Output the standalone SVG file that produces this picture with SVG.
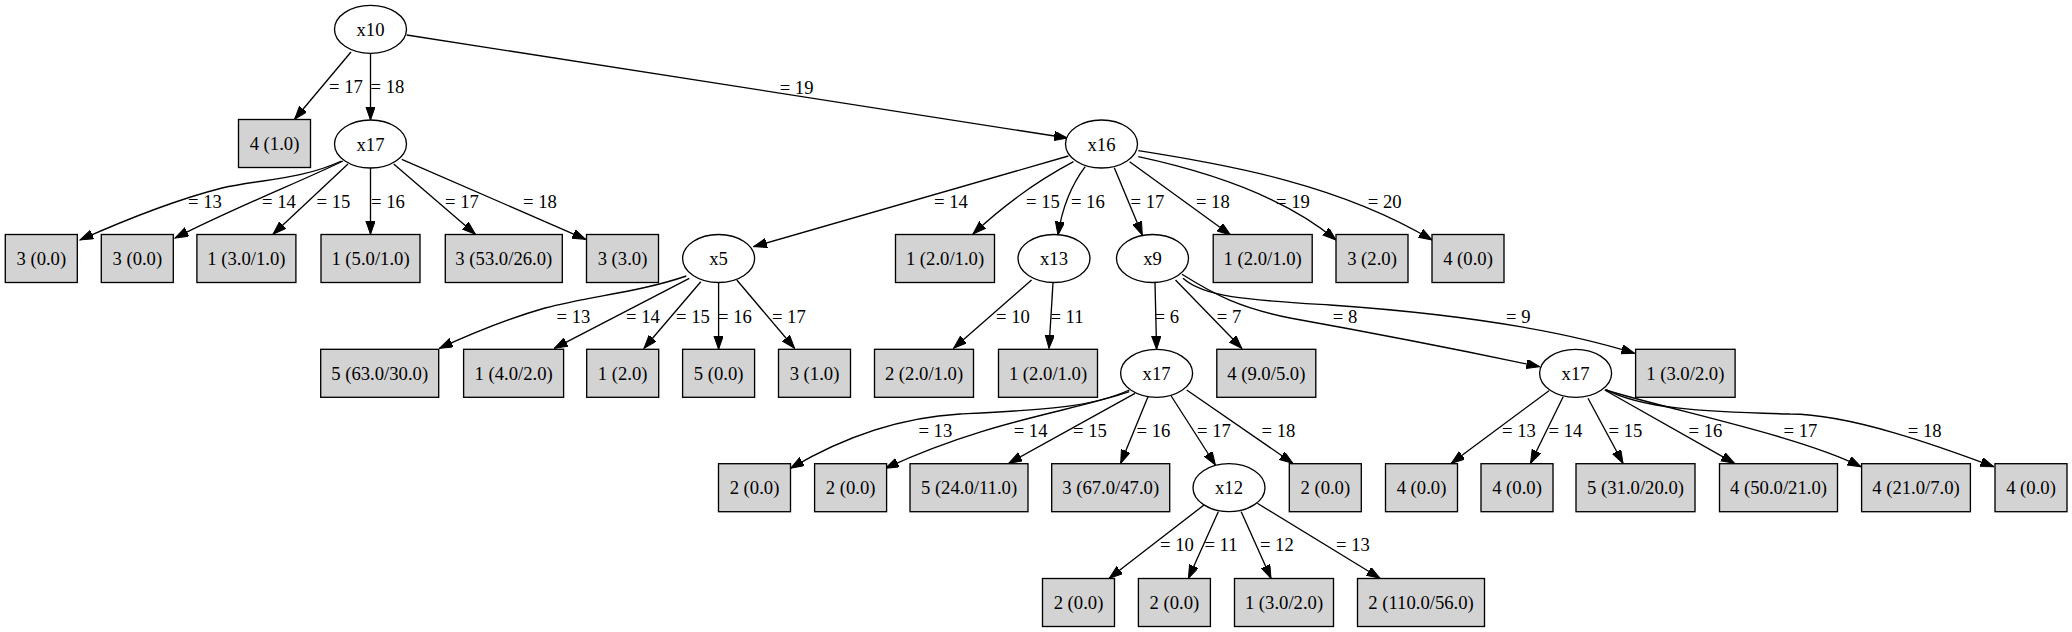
<svg xmlns="http://www.w3.org/2000/svg" width="2072" height="632" viewBox="0 0 2072 632">
<style>
text{font-family:"Liberation Serif","Times New Roman",serif;font-size:18.67px;fill:#000;text-anchor:middle}
.n ellipse{fill:#fff;stroke:#000;stroke-width:1.33}
.n rect{fill:#d3d3d3;stroke:#000;stroke-width:1.33}
#edges path{fill:none;stroke:#000;stroke-width:1.33;marker-end:url(#ah)}
</style>
<defs>
<marker id="ah" markerUnits="userSpaceOnUse" markerWidth="14" markerHeight="10" refX="13.3" refY="4.67" orient="auto">
<path d="M0,0 L13.3,4.67 L0,9.33 Z" fill="#000" stroke="#000" stroke-width="1"/>
</marker>
</defs>
<rect width="2072" height="632" fill="#fff"/>
<g id="edges">
<path d="M351,52 L294.6,119.3"/>
<path d="M370.5,53.3 L370.5,120"/>
<path d="M406.7,35 L1067.4,138"/>
<path d="M341.5,161 C300,180 262,179 222,188 C175,200 125,220 80,240"/>
<path d="M343,161 C300,182 240,205 175,238"/>
<path d="M348,164 L273,234.3"/>
<path d="M370.5,168 L370.5,234.3"/>
<path d="M393.7,164 L475.4,234.3"/>
<path d="M401.8,159.3 L585.7,239.3"/>
<path d="M1068.4,156 L753.6,246.7"/>
<path d="M1073.5,161.7 Q1020,190 973,234"/>
<path d="M1085.2,166.7 Q1064,195 1058,235"/>
<path d="M1114.3,167.7 L1142.3,235"/>
<path d="M1129.6,161.7 L1230.6,235"/>
<path d="M1138.3,156.7 Q1270,185 1336,240"/>
<path d="M1138.3,150.7 C1230,165 1340,185 1432,240"/>
<path d="M686.3,276 C640,292 590,296 545,308 C510,318 475,332 439.4,348.3"/>
<path d="M689.3,278.3 L554.3,348.3"/>
<path d="M700.8,281.7 L644,348.3"/>
<path d="M718.6,282.7 L718.6,349.3"/>
<path d="M736.8,280 L794.6,348.3"/>
<path d="M1031.6,280 L953.6,348.3"/>
<path d="M1053,282.7 L1049,348.3"/>
<path d="M1155,282.7 L1156.6,349.3"/>
<path d="M1175.5,280 L1241.8,348.3"/>
<path d="M1182,274.3 C1215,295 1240,308 1290,318 C1390,336 1470,352 1539.7,366.7"/>
<path d="M1183,278.3 C1205,298 1250,300 1330,305 C1460,314 1560,330 1634.6,353.3"/>
<path d="M1129.3,390 C1090,408 1040,410 960,414 C890,418 830,445 790.6,468.3"/>
<path d="M1129.3,391.7 C1070,412 990,420 885.3,468.3"/>
<path d="M1135,393.3 L1008.8,463.3"/>
<path d="M1148,396.7 L1120.7,463.3"/>
<path d="M1171.2,396 L1215.4,465"/>
<path d="M1186.7,390 L1292.9,463.3"/>
<path d="M1204,505 L1109.2,578.3"/>
<path d="M1218.3,511.7 L1188.4,578.3"/>
<path d="M1241.2,511.7 L1271,578.3"/>
<path d="M1257.3,503.3 L1380,578.3"/>
<path d="M1549,390.7 L1451.3,463.3"/>
<path d="M1563.2,396.7 L1530.5,463.3"/>
<path d="M1588,398.3 L1623,463.3"/>
<path d="M1604.7,390 L1734.5,463.3"/>
<path d="M1605.6,390 C1670,410 1800,436 1861,466.7"/>
<path d="M1605.6,389.3 C1640,408 1700,412 1790,414 C1850,414 1940,446.5 1993.8,466.7"/>
</g>
<g id="edge-labels">
<text x="346" y="93.3">= 17</text>
<text x="387.5" y="93.3">= 18</text>
<text x="796.6" y="94.3">= 19</text>
<text x="205" y="208">= 13</text>
<text x="279" y="208">= 14</text>
<text x="333.5" y="208">= 15</text>
<text x="388" y="208">= 16</text>
<text x="462" y="208">= 17</text>
<text x="540" y="208">= 18</text>
<text x="951" y="208">= 14</text>
<text x="1042.9" y="208">= 15</text>
<text x="1087.8" y="208">= 16</text>
<text x="1147.4" y="208">= 17</text>
<text x="1212.8" y="208">= 18</text>
<text x="1292.9" y="208">= 19</text>
<text x="1384.7" y="208">= 20</text>
<text x="573.4" y="323">= 13</text>
<text x="643" y="323">= 14</text>
<text x="693" y="323">= 15</text>
<text x="735" y="323">= 16</text>
<text x="788.8" y="323">= 17</text>
<text x="1013" y="323">= 10</text>
<text x="1067" y="323">= 11</text>
<text x="1166.8" y="323">= 6</text>
<text x="1229" y="323">= 7</text>
<text x="1345" y="323">= 8</text>
<text x="1518.3" y="323">= 9</text>
<text x="935.3" y="437">= 13</text>
<text x="1030.6" y="437">= 14</text>
<text x="1090" y="437">= 15</text>
<text x="1153.4" y="437">= 16</text>
<text x="1214" y="437">= 17</text>
<text x="1278.5" y="437">= 18</text>
<text x="1519" y="437">= 13</text>
<text x="1565.5" y="437">= 14</text>
<text x="1625.4" y="437">= 15</text>
<text x="1705.5" y="437">= 16</text>
<text x="1800.4" y="437">= 17</text>
<text x="1924.7" y="437">= 18</text>
<text x="1177" y="551">= 10</text>
<text x="1221" y="551">= 11</text>
<text x="1276.8" y="551">= 12</text>
<text x="1353" y="551">= 13</text>
</g>
<g id="n_x10" class="n"><ellipse cx="370.5" cy="29.3" rx="36" ry="24"/><text x="370.5" y="35.5">x10</text></g>
<g id="n_l1" class="n"><rect x="238.5" y="119.5" width="72" height="48"/><text x="274.5" y="150.3">4 (1.0)</text></g>
<g id="n_x17a" class="n"><ellipse cx="370.5" cy="144" rx="36" ry="24"/><text x="370.5" y="150.5">x17</text></g>
<g id="n_x16" class="n"><ellipse cx="1101.5" cy="144" rx="36" ry="24"/><text x="1101.5" y="150.5">x16</text></g>
<g id="n_l2" class="n"><rect x="5.3" y="234.5" width="72" height="48"/><text x="41.3" y="265.2">3 (0.0)</text></g>
<g id="n_l3" class="n"><rect x="101.3" y="234.5" width="72" height="48"/><text x="137.3" y="265.2">3 (0.0)</text></g>
<g id="n_l4" class="n"><rect x="196.9" y="234.5" width="99" height="48"/><text x="246.4" y="265.2">1 (3.0/1.0)</text></g>
<g id="n_l5" class="n"><rect x="321" y="234.5" width="99" height="48"/><text x="370.5" y="265.2">1 (5.0/1.0)</text></g>
<g id="n_l6" class="n"><rect x="445.3" y="234.5" width="117" height="48"/><text x="503.8" y="265.2">3 (53.0/26.0)</text></g>
<g id="n_l7" class="n"><rect x="586.5" y="234.5" width="72" height="48"/><text x="622.5" y="265.2">3 (3.0)</text></g>
<g id="n_x5" class="n"><ellipse cx="718.6" cy="258.5" rx="36" ry="24"/><text x="718.6" y="265.2">x5</text></g>
<g id="n_l8" class="n"><rect x="895.5" y="234.5" width="99" height="48"/><text x="945" y="265.2">1 (2.0/1.0)</text></g>
<g id="n_x13" class="n"><ellipse cx="1054" cy="258.5" rx="36" ry="24"/><text x="1054" y="265.2">x13</text></g>
<g id="n_x9" class="n"><ellipse cx="1152.5" cy="258.5" rx="36" ry="24"/><text x="1152.5" y="265.2">x9</text></g>
<g id="n_l9" class="n"><rect x="1213.2" y="234.5" width="99" height="48"/><text x="1262.7" y="265.2">1 (2.0/1.0)</text></g>
<g id="n_l10" class="n"><rect x="1336" y="234.5" width="72" height="48"/><text x="1372" y="265.2">3 (2.0)</text></g>
<g id="n_l11" class="n"><rect x="1432" y="234.5" width="72" height="48"/><text x="1468" y="265.2">4 (0.0)</text></g>
<g id="n_l12" class="n"><rect x="320.7" y="349.3" width="118" height="48"/><text x="379.7" y="380">5 (63.0/30.0)</text></g>
<g id="n_l13" class="n"><rect x="463.6" y="349.3" width="100" height="48"/><text x="513.6" y="380">1 (4.0/2.0)</text></g>
<g id="n_l14" class="n"><rect x="586.7" y="349.3" width="72" height="48"/><text x="622.7" y="380">1 (2.0)</text></g>
<g id="n_l15" class="n"><rect x="682.6" y="349.3" width="72" height="48"/><text x="718.6" y="380">5 (0.0)</text></g>
<g id="n_l16" class="n"><rect x="778.5" y="349.3" width="72" height="48"/><text x="814.5" y="380">3 (1.0)</text></g>
<g id="n_l17" class="n"><rect x="874.5" y="349.3" width="99" height="48"/><text x="924" y="380">2 (2.0/1.0)</text></g>
<g id="n_l18" class="n"><rect x="998.5" y="349.3" width="99" height="48"/><text x="1048" y="380">1 (2.0/1.0)</text></g>
<g id="n_x17b" class="n"><ellipse cx="1156.6" cy="373.3" rx="36" ry="24"/><text x="1156.6" y="380">x17</text></g>
<g id="n_l19" class="n"><rect x="1216.8" y="349.3" width="99" height="48"/><text x="1266.3" y="380">4 (9.0/5.0)</text></g>
<g id="n_x17c" class="n"><ellipse cx="1575.6" cy="373.3" rx="36" ry="24"/><text x="1575.6" y="380">x17</text></g>
<g id="n_l20" class="n"><rect x="1635.6" y="349.3" width="99.5" height="48"/><text x="1685.3" y="380">1 (3.0/2.0)</text></g>
<g id="n_l21" class="n"><rect x="718.5" y="463.7" width="72" height="48"/><text x="754.5" y="494.4">2 (0.0)</text></g>
<g id="n_l22" class="n"><rect x="814.6" y="463.7" width="72" height="48"/><text x="850.6" y="494.4">2 (0.0)</text></g>
<g id="n_l23" class="n"><rect x="910" y="463.7" width="118" height="48"/><text x="969" y="494.4">5 (24.0/11.0)</text></g>
<g id="n_l24" class="n"><rect x="1051.7" y="463.7" width="118" height="48"/><text x="1110.7" y="494.4">3 (67.0/47.0)</text></g>
<g id="n_x12" class="n"><ellipse cx="1229" cy="487.7" rx="36" ry="24"/><text x="1229" y="494.4">x12</text></g>
<g id="n_l25" class="n"><rect x="1289.3" y="463.7" width="72" height="48"/><text x="1325.3" y="494.4">2 (0.0)</text></g>
<g id="n_l26" class="n"><rect x="1385.5" y="463.7" width="72" height="48"/><text x="1421.5" y="494.4">4 (0.0)</text></g>
<g id="n_l27" class="n"><rect x="1481" y="463.7" width="72" height="48"/><text x="1517" y="494.4">4 (0.0)</text></g>
<g id="n_l28" class="n"><rect x="1576" y="463.7" width="119" height="48"/><text x="1635.5" y="494.4">5 (31.0/20.0)</text></g>
<g id="n_l29" class="n"><rect x="1719.5" y="463.7" width="118" height="48"/><text x="1778.5" y="494.4">4 (50.0/21.0)</text></g>
<g id="n_l30" class="n"><rect x="1861.6" y="463.7" width="108.8" height="48"/><text x="1916" y="494.4">4 (21.0/7.0)</text></g>
<g id="n_l31" class="n"><rect x="1995" y="463.7" width="72" height="48"/><text x="2031" y="494.4">4 (0.0)</text></g>
<g id="n_l32" class="n"><rect x="1042.5" y="578.5" width="72" height="48"/><text x="1078.5" y="609.2">2 (0.0)</text></g>
<g id="n_l33" class="n"><rect x="1138.4" y="578.5" width="72" height="48"/><text x="1174.4" y="609.2">2 (0.0)</text></g>
<g id="n_l34" class="n"><rect x="1234.5" y="578.5" width="99" height="48"/><text x="1284" y="609.2">1 (3.0/2.0)</text></g>
<g id="n_l35" class="n"><rect x="1357.5" y="578.5" width="127" height="48"/><text x="1421" y="609.2">2 (110.0/56.0)</text></g>
</svg>
